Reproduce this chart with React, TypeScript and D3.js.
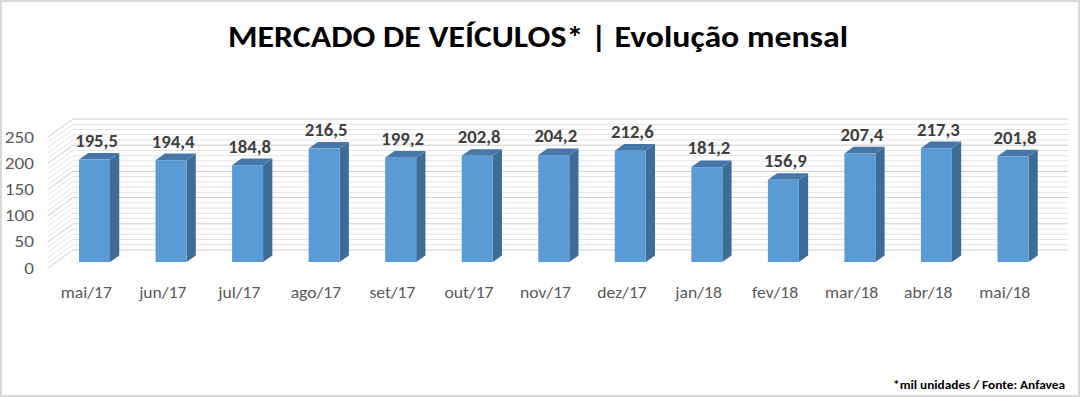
import React, { useEffect, useRef } from 'react';
import * as d3 from 'd3';

const months = ['mai/17', 'jun/17', 'jul/17', 'ago/17', 'set/17', 'out/17', 'nov/17',
  'dez/17', 'jan/18', 'fev/18', 'mar/18', 'abr/18', 'mai/18'];
const sales = [195.5, 194.4, 184.8, 216.5, 199.2, 202.8, 204.2, 212.6, 181.2, 156.9, 207.4, 217.3, 201.8];
const yTicks = [0, 50, 100, 150, 200, 250];

const W = 1080;
const H = 397;
const FONT = 'Carlito, Calibri, Lato, sans-serif';

// oblique offset of the back wall relative to the front plane
const DEPTH_X = 25;
const DEPTH_Y = -18;
// bar front / back as fractions of the floor depth
const BAR_Z0 = 0.33;
const BAR_Z1 = 0.7;

export default function App() {
  const ref = useRef<SVGSVGElement | null>(null);

  useEffect(() => {
    const svg = d3.select(ref.current);
    svg.selectAll('*').remove();

    const x = d3.scaleBand<string>().domain(months).range([48, 1043]).paddingInner(0).paddingOuter(0);
    const y = d3.scaleLinear().domain([0, 250]).range([268, 137]);
    const fmt = (v: number) => d3.format('.1f')(v).replace('.', ',');

    svg.append('rect')
      .attr('x', 1).attr('y', 1).attr('width', W - 2).attr('height', H - 2)
      .attr('fill', '#fff').attr('stroke', '#d9d9d9').attr('stroke-width', 2);

    // walls: minor lines every 10, major every 50
    const grid = svg.append('g');
    const lines = d3.range(0, 251, 10);
    const x0 = x.range()[0];
    const x1 = x.range()[1];
    lines.forEach((v) => {
      const major = v % 50 === 0;
      const col = major ? '#cccccc' : '#e3e3e3';
      const yb = y(v) + DEPTH_Y;
      grid.append('line')
        .attr('x1', x0).attr('y1', y(v))
        .attr('x2', x0 + DEPTH_X).attr('y2', yb)
        .attr('stroke', col).attr('stroke-width', 1);
      grid.append('line')
        .attr('x1', x0 + DEPTH_X).attr('y1', yb)
        .attr('x2', x1 + DEPTH_X).attr('y2', yb)
        .attr('stroke', col).attr('stroke-width', 1);
    });

    // 3d columns
    const bw = 31;
    const dx = (BAR_Z1 - BAR_Z0) * DEPTH_X;
    const dy = (BAR_Z1 - BAR_Z0) * DEPTH_Y;
    const bars = svg.append('g')
      .selectAll('g')
      .data(sales)
      .enter()
      .append('g')
      .attr('transform', (d, i) => {
        const cx = (x(months[i]) as number) + x.bandwidth() / 2 + BAR_Z0 * DEPTH_X;
        return 'translate(' + (cx - bw / 2) + ',' + (BAR_Z0 * DEPTH_Y) + ')';
      });

    bars.append('path')
      .attr('d', (d) => `M${bw},${y(d)} L${bw + dx},${y(d) + dy} L${bw + dx},${y(0) + dy} L${bw},${y(0)} Z`)
      .attr('fill', '#3f6c97');
    bars.append('path')
      .attr('d', (d) => `M0,${y(d)} L${dx},${y(d) + dy} L${bw + dx},${y(d) + dy} L${bw},${y(d)} Z`)
      .attr('fill', '#4677a8');
    bars.append('rect')
      .attr('x', 0).attr('y', (d) => y(d))
      .attr('width', bw).attr('height', (d) => y(0) - y(d))
      .attr('fill', '#5b9bd5');

    // labels are stretched a little horizontally
    bars.append('text')
      .attr('transform', (d) => 'translate(' + (bw / 2 + 2) + ',' + (y(d) + dy - 6) + ') scale(1.07,1)')
      .attr('text-anchor', 'middle')
      .style('font-family', FONT).style('font-weight', 'bold').style('font-size', '17.5px')
      .style('fill', '#404040')
      .text((d) => fmt(d));

    // value axis labels
    svg.append('g')
      .selectAll('text')
      .data(yTicks)
      .enter()
      .append('text')
      .attr('transform', (d) => 'translate(34,' + y(d) + ') scale(1.2,1)')
      .attr('dy', '0.35em')
      .attr('text-anchor', 'end')
      .style('font-family', FONT).style('font-size', '16px').style('fill', '#595959')
      .text((d) => d);

    // category labels
    svg.append('g')
      .selectAll('text')
      .data(months)
      .enter()
      .append('text')
      .attr('transform', (d) => 'translate(' + ((x(d) as number) + x.bandwidth() / 2) + ',292) scale(1.1,1)')
      .attr('dy', '0.35em')
      .attr('text-anchor', 'middle')
      .style('font-family', FONT).style('font-size', '16px').style('fill', '#595959')
      .text((d) => d);

    svg.append('text')
      .attr('x', 228).attr('y', 47)
      .attr('textLength', 620).attr('lengthAdjust', 'spacingAndGlyphs')
      .style('font-family', FONT).style('font-weight', 'bold').style('font-size', '31px')
      .style('fill', '#000')
      .text('MERCADO DE VEÍCULOS* | Evolução mensal');

    svg.append('text')
      .attr('x', 893).attr('y', 389)
      .attr('textLength', 172).attr('lengthAdjust', 'spacingAndGlyphs')
      .style('font-family', FONT).style('font-weight', 'bold').style('font-size', '12.5px')
      .style('fill', '#000')
      .text('*mil unidades / Fonte: Anfavea');
  }, []);

  return (
    <svg
      ref={ref}
      width={W}
      height={H}
      style={{ position: 'absolute', left: 0, top: 0, display: 'block', background: '#fff' }}
    ></svg>
  );
}
